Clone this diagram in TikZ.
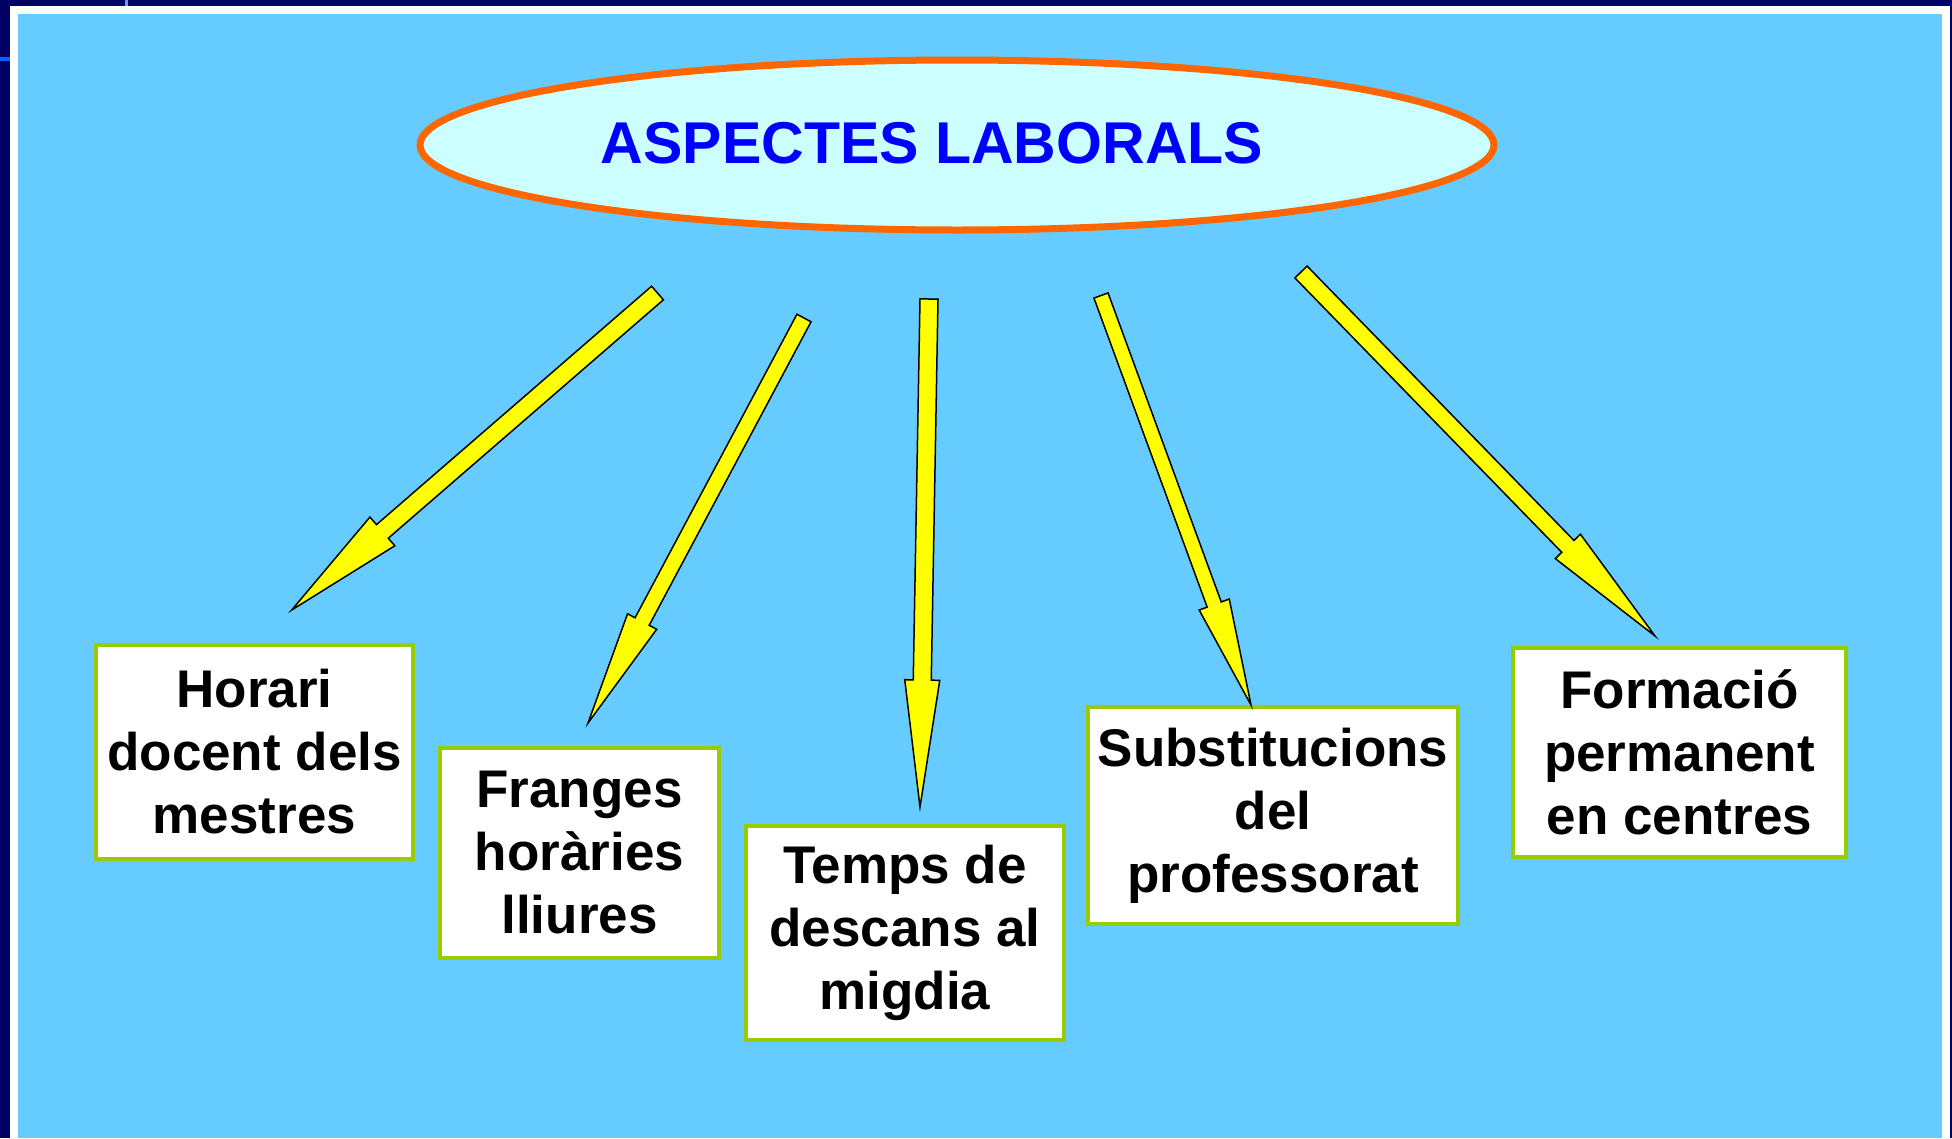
\documentclass[tikz,border=0pt]{standalone}
\usepackage{fontspec}
\setmainfont{Liberation Sans}
\usetikzlibrary{shapes.geometric,calc}
\definecolor{navy}{HTML}{000066}
\definecolor{bgblue}{HTML}{66CCFF}
\definecolor{ellfill}{HTML}{CCFFFF}
\definecolor{ellline}{HTML}{FF6600}
\definecolor{titleblue}{HTML}{0000FF}
\definecolor{boxgreen}{HTML}{99CC00}
\definecolor{arrowyellow}{HTML}{FFFF00}
\definecolor{markA}{HTML}{6699FF}
\definecolor{markB}{HTML}{0066FF}
\tikzset{
  topic/.style={draw=boxgreen, line width=4pt, fill=white, inner sep=0pt,
    align=center, font=\fontsize{53}{63}\selectfont\bfseries},
  mainell/.style={ellipse, draw=ellline, line width=7pt, fill=ellfill, inner sep=0pt,
    minimum width=1074pt, minimum height=170pt},
  titletext/.style={text=titleblue, font=\fontsize{59}{66}\selectfont\bfseries, inner sep=0pt},
  blockarrow/.style={fill=arrowyellow, draw=black, line width=1.5pt, line join=miter}
}
% #1 tail, #2 tip, #3 head length, #4 shaft half width, #5 head half width
\newcommand{\blockarr}[5]{%
  \coordinate (hb) at ($(#2)!#3pt!(#1)$);
  \draw[blockarrow] ($(#1)!#4pt!90:(#2)$) -- ($(hb)!#4pt!90:(#2)$) -- ($(hb)!#5pt!90:(#2)$)
    -- (#2) -- ($(hb)!#5pt!-90:(#2)$) -- ($(hb)!#4pt!-90:(#2)$) -- ($(#1)!#4pt!-90:(#2)$) -- cycle;
}
\begin{document}
\begin{tikzpicture}[x=1pt,y=-1pt]
\useasboundingbox (0,0) rectangle (1952,1138);
% frame
\fill[navy] (0,0) rectangle (1952,1138);
\fill[white] (10,6) rectangle (1950,1138);
\fill[bgblue] (18,14) rectangle (1942,1138);
\fill[markA] (125,0) rectangle (128,6);
\fill[markB] (0,57) rectangle (10,61);
% central ellipse
\node[mainell] (top) at (957,145) {};
\node[titletext] (title) at (932,143) {ASPECTES LABORALS};
% boxes
\node[topic, minimum width=317pt, minimum height=214pt] (b1) at (254.5,752) {Horari\\docent dels\\mestres};
\node[topic, minimum width=279pt, minimum height=210pt] (b2) at (579.5,853) {Franges\\horàries\\lliures};
\node[topic, minimum width=318pt, minimum height=214pt] (b3) at (905,933) {Temps de\\descans al\\migdia};
\node[topic, minimum width=370pt, minimum height=217pt] (b4) at (1273,815.5) {Substitucions\\del\\professorat};
\node[topic, minimum width=333pt, minimum height=209pt] (b5) at (1679.5,752.5) {Formació\\permanent\\en centres};
% arrow ends
\coordinate (t1) at (657.5,293);  \coordinate (p1) at (291.7,610);
\coordinate (t2) at (804,318);    \coordinate (p2) at (588,723);
\coordinate (t3) at (929,299);    \coordinate (p3) at (920,807);
\coordinate (t4) at (1101,295.5); \coordinate (p4) at (1251,705);
\coordinate (t5) at (1301,272);   \coordinate (p5) at (1655,636);
\blockarr{t1}{p1}{120}{9}{19}
\blockarr{t2}{p2}{115}{8}{16.5}
\blockarr{t3}{p3}{127}{9}{17.5}
\blockarr{t4}{p4}{107}{7.5}{16}
\blockarr{t5}{p5}{125}{8.5}{17.5}
\end{tikzpicture}
\end{document}
